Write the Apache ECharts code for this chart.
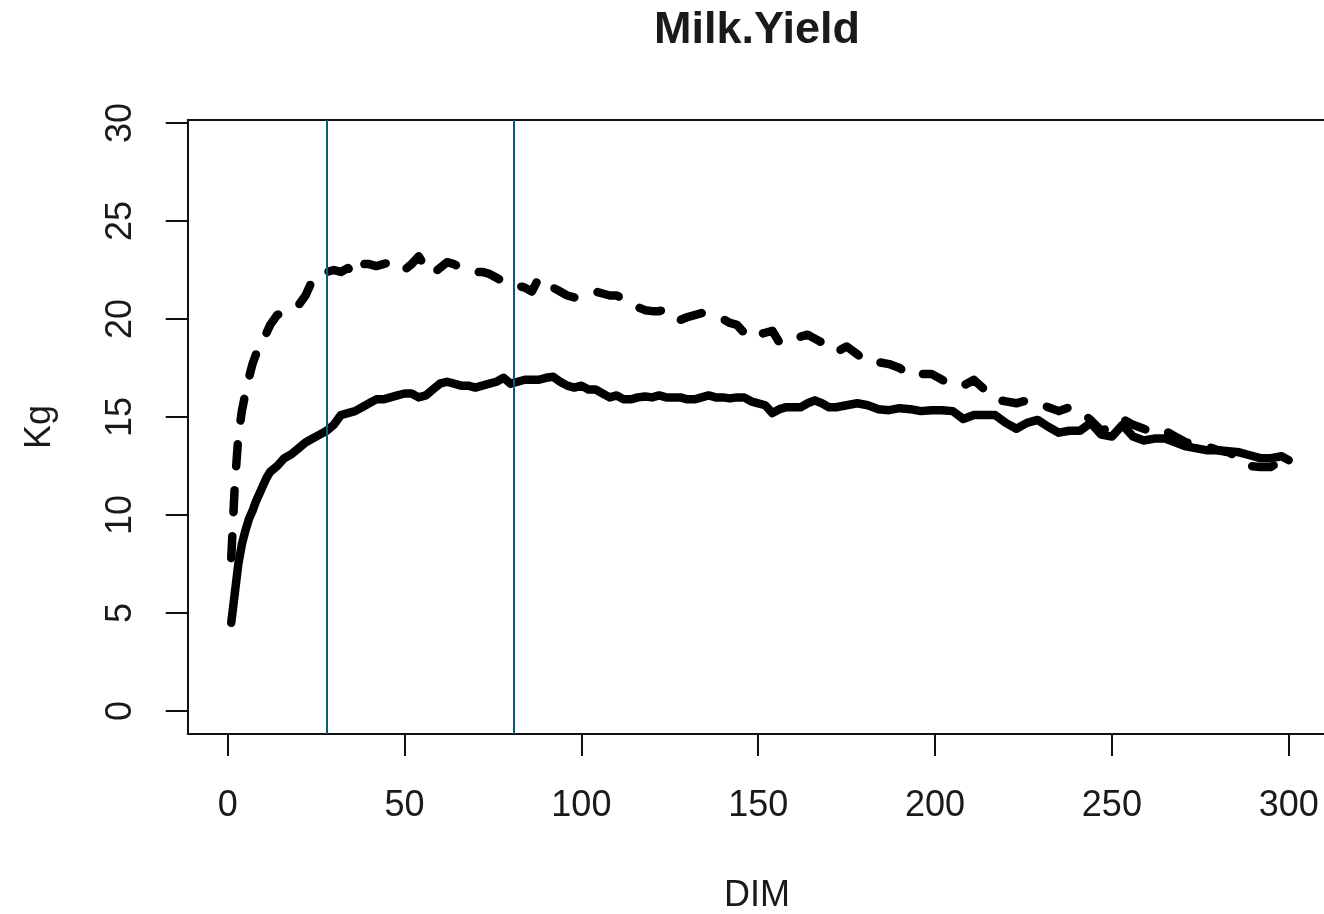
<!DOCTYPE html>
<html>
<head>
<meta charset="utf-8">
<script src="https://cdn.jsdelivr.net/npm/echarts@6/dist/echarts.min.js"></script>
<style>
html,body{margin:0;padding:0;background:#fff;}
#chart{width:1324px;height:914px;}
</style>
</head>
<body>
<div id="chart"></div>
<script>
// ---- data ----
const chartTitle = "Milk.Yield";
const xName = "DIM";
const yName = "Kg";
const xTicks = [0, 50, 100, 150, 200, 250, 300];
const yTicks = [0, 5, 10, 15, 20, 25, 30];
const vLines = [28, 81];

const solidDays = [1,2,3,4,5,6,7,8,9,10,11,12,14,16,18,20,22,24,26,28,30,32,34,36,38,40,42,44,46,48,50,52,54,56,58,60,62,64,66,68,70,72,74,76,78,80,82,84,86,88,90,92,94,96,98,100,102,104,106,108,110,112,114,116,118,120,122,124,126,128,130,132,134,136,138,140,142,144,146,148,150,152,154,156,158,160,162,164,166,168,170,172,175,178,181,184,187,190,193,196,199,202,205,208,211,214,217,220,223,226,229,232,235,238,241,244,247,250,253,256,259,262,265,268,271,274,277,280,283,286,289,292,295,298,300];
const solidValues = [4.5,6.0,7.5,8.5,9.2,9.8,10.2,10.7,11.1,11.5,11.9,12.2,12.5,12.9,13.1,13.4,13.7,13.9,14.1,14.3,14.6,15.1,15.2,15.3,15.5,15.7,15.9,15.9,16.0,16.1,16.2,16.2,16.0,16.1,16.4,16.7,16.8,16.7,16.6,16.6,16.5,16.6,16.7,16.8,17.0,16.7,16.8,16.9,16.9,16.9,17.0,17.05,16.8,16.6,16.5,16.6,16.4,16.4,16.2,16.0,16.1,15.9,15.9,16.0,16.05,16.0,16.1,16.0,16.0,16.0,15.9,15.9,16.0,16.1,16.0,16.0,15.95,16.0,16.0,15.8,15.7,15.6,15.2,15.4,15.5,15.5,15.5,15.7,15.85,15.7,15.5,15.5,15.6,15.7,15.6,15.4,15.35,15.45,15.4,15.3,15.35,15.35,15.3,14.9,15.1,15.1,15.1,14.7,14.4,14.7,14.85,14.5,14.2,14.3,14.3,14.7,14.1,14.0,14.6,14.0,13.8,13.9,13.9,13.7,13.5,13.4,13.3,13.3,13.25,13.2,13.05,12.9,12.9,13.0,12.8];

const dashDays = [1,2,3,4,5,6,7,8,9,10,11,12,14,16,18,20,22,24,26,28,30,32,34,36,38,40,42,44,46,48,50,52,54,56,58,60,62,64,66,68,70,72,74,76,78,80,82,84,86,88,90,92,94,96,98,100,102,104,106,108,110,112,114,116,118,120,122,124,126,128,130,132,134,136,138,140,142,144,146,148,150,152,154,156,158,160,162,164,166,168,170,172,175,178,181,184,187,190,193,196,199,202,205,208,211,214,217,220,223,226,229,232,235,238,241,244,247,250,253,256,259,262,265,268,271,274,277,280,283,286,289,292,295,298,300];
const dashValues = [7.8,11.5,14.0,15.3,16.2,17.0,17.7,18.2,18.6,19.0,19.3,19.7,20.2,20.4,20.5,20.7,21.2,22.0,22.3,22.4,22.5,22.4,22.6,22.25,22.8,22.8,22.7,22.8,22.9,22.6,22.5,22.8,23.2,22.6,22.3,22.6,22.9,22.8,22.6,22.5,22.4,22.4,22.3,22.1,21.9,21.9,21.7,21.6,21.4,22.1,21.9,21.6,21.4,21.2,21.1,21.2,21.3,21.4,21.3,21.2,21.2,21.0,20.9,20.6,20.45,20.4,20.4,20.5,20.3,19.95,20.1,20.2,20.3,20.2,20.1,20.0,19.8,19.7,19.3,19.0,19.2,19.3,19.4,18.8,18.9,19.1,19.1,19.2,19.0,18.8,18.5,18.3,18.6,18.2,17.8,17.8,17.7,17.5,17.1,17.2,17.2,16.9,16.6,16.6,16.9,16.4,15.9,15.8,15.7,15.85,15.7,15.5,15.3,15.5,15.3,14.85,14.3,14.5,14.9,14.6,14.4,14.2,14.3,14.0,13.7,13.6,13.5,13.3,13.2,12.9,12.5,12.45,12.45,12.8,13.0];

// ---- chart ----
const zip = (xs, ys) => xs.map((x, i) => [x, ys[i]]);
const FONT = 'Liberation Sans, Arial, sans-serif';
const TXT = '#1a1a1a';
const LINE = {color: '#111', width: 2};
const X_MIN = -11.31, X_MAX = 309.98, Y_MIN = -1.173, Y_MAX = 30.153;

const chart = echarts.init(document.getElementById('chart'), null, {renderer: 'canvas'});
chart.setOption({
  animation: false,
  backgroundColor: '#ffffff',
  grid: {left: 187.7, top: 120, right: 0, bottom: 180, show: false},
  xAxis: [
    {
      type: 'value', min: X_MIN, max: X_MAX, position: 'bottom',
      axisLine: {show: true, onZero: false, lineStyle: LINE},
      splitLine: {show: false},
      axisTick: {show: true, inside: false, length: 22, customValues: xTicks, lineStyle: LINE},
      axisLabel: {show: true, customValues: xTicks, margin: 54, color: TXT, fontSize: 36, fontFamily: FONT}
    },
    {
      type: 'value', min: X_MIN, max: X_MAX, position: 'top',
      axisLine: {show: true, onZero: false, lineStyle: LINE},
      splitLine: {show: false}, axisTick: {show: false}, axisLabel: {show: false}
    }
  ],
  yAxis: {
    type: 'value', min: Y_MIN, max: Y_MAX,
    axisLine: {show: true, onZero: false, lineStyle: LINE},
    splitLine: {show: false},
    axisTick: {show: true, inside: false, length: 22, customValues: yTicks, lineStyle: LINE},
    axisLabel: {show: true, customValues: yTicks, rotate: 90, margin: 49, color: TXT, fontSize: 36, fontFamily: FONT}
  },
  graphic: [
    {type: 'text', x: 757, y: 31, style: {text: chartTitle, fontSize: 45, fontWeight: 'bold', fontFamily: FONT, fill: TXT, textAlign: 'center', textVerticalAlign: 'middle'}},
    {type: 'text', x: 757, y: 896, style: {text: xName, fontSize: 36, fontFamily: FONT, fill: TXT, textAlign: 'center', textVerticalAlign: 'middle'}},
    {type: 'text', x: 40, y: 427, rotation: Math.PI / 2, style: {text: yName, fontSize: 36, fontFamily: FONT, fill: TXT, textAlign: 'center', textVerticalAlign: 'middle'}}
  ],
  series: [
    {
      type: 'line', name: 'solid', data: zip(solidDays, solidValues), showSymbol: false, symbol: 'none',
      lineStyle: {color: '#000', width: 8.5, type: 'solid', cap: 'round', join: 'round'}, z: 2
    },
    {
      type: 'line', name: 'dashed', data: zip(dashDays, dashValues), showSymbol: false, symbol: 'none',
      lineStyle: {color: '#000', width: 8.5, type: [22, 24], cap: 'round', join: 'round'}, z: 2
    },
    {
      type: 'line', name: 'vlines', data: [], z: 5,
      markLine: {
        silent: true, symbol: 'none', animation: false,
        label: {show: false},
        lineStyle: {color: '#0b5a7e', width: 2, type: 'solid'},
        data: vLines.map(v => ({xAxis: v}))
      }
    }
  ]
});
</script>
</body>
</html>
